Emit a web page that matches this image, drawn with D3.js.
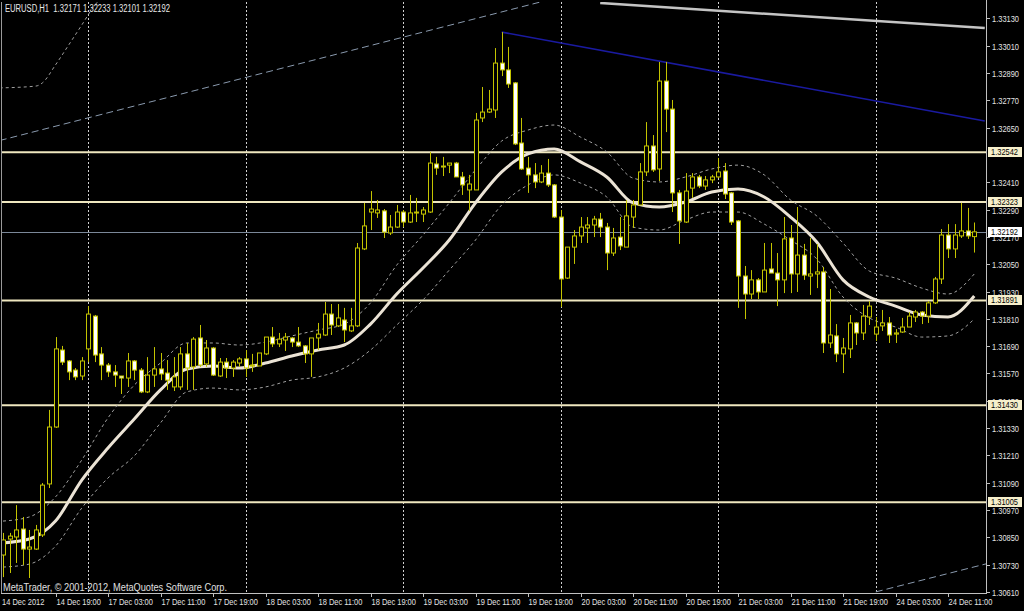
<!DOCTYPE html>
<html><head><meta charset="utf-8">
<script src="https://cdn.jsdelivr.net/npm/d3@7"></script>
<style>body{margin:0;background:#000;overflow:hidden}svg{display:block}text{font-family:"Liberation Sans",Arial,sans-serif}</style>
</head><body>
<script>
const symbolTitle = "EURUSD,H1  1.32171 1.32233 1.32101 1.32192";
const copyright = "MetaTrader, \u00A9 2001-2012, MetaQuotes Software Corp.";
const openP = [1.30773,1.30843,1.30852,1.30887,1.30799,1.30799,1.30861,1.31085,1.31335,1.31673,
1.31625,1.31585,1.31559,1.31678,1.31822,1.31656,1.31607,1.31577,1.31559,1.31550,
1.31625,1.31585,1.31489,1.31563,1.31590,1.31572,1.31511,1.31511,1.31656,1.31599,
1.31726,1.31612,1.31682,1.31559,1.31620,1.31594,1.31616,1.31634,1.31603,1.31603,
1.31656,1.31730,1.31700,1.31717,1.31726,1.31708,1.31691,1.31656,1.31726,1.31739,
1.31831,1.31779,1.31805,1.31757,1.31779,1.32117,1.32279,1.32275,1.32284,1.32187,
1.32213,1.32279,1.32235,1.32275,1.32270,1.32279,1.32490,1.32477,1.32485,1.32494,
1.32433,1.32376,1.32376,1.32692,1.32718,1.32727,1.32933,1.32903,1.32846,1.32582,
1.32472,1.32442,1.32411,1.32450,1.32398,1.32257,1.31989,1.32125,1.32174,1.32209,
1.32222,1.32248,1.32213,1.32099,1.32169,1.32125,1.32257,1.32310,1.32455,1.32569,
1.32468,1.32854,1.32731,1.32363,1.32235,1.32384,1.32433,1.32393,1.32420,1.32433,
1.32459,1.32363,1.32240,1.31998,1.31919,1.31981,1.31928,1.32029,1.32011,1.31981,
1.32165,1.32007,1.32090,1.31998,1.32007,1.32016,1.31704,1.31735,1.31656,1.31678,
1.31792,1.31748,1.31818,1.31743,1.31779,1.31792,1.31743,1.31752,1.31774,1.31818,
1.31840,1.31822,1.31880,1.31985,1.32178,1.32117,1.32174,1.32196,1.32171];
const highP = [1.30870,1.30870,1.30992,1.30940,1.30883,1.30905,1.31089,1.31410,1.31730,1.31691,
1.31629,1.31594,1.31642,1.31866,1.31827,1.31686,1.31616,1.31607,1.31559,1.31660,
1.31629,1.31594,1.31642,1.31686,1.31660,1.31629,1.31642,1.31686,1.31704,1.31730,
1.31783,1.31717,1.31686,1.31638,1.31638,1.31629,1.31642,1.31673,1.31656,1.31660,
1.31730,1.31774,1.31748,1.31748,1.31730,1.31774,1.31695,1.31726,1.31792,1.31884,
1.31875,1.31875,1.31858,1.31858,1.32143,1.32319,1.32371,1.32332,1.32292,1.32266,
1.32310,1.32288,1.32354,1.32341,1.32301,1.32543,1.32521,1.32521,1.32494,1.32499,
1.32455,1.32442,1.32714,1.32828,1.32815,1.32999,1.33069,1.33004,1.32850,1.32692,
1.32521,1.32494,1.32485,1.32512,1.32402,1.32288,1.32125,1.32200,1.32257,1.32257,
1.32262,1.32275,1.32231,1.32209,1.32257,1.32332,1.32332,1.32494,1.32674,1.32617,
1.32938,1.32938,1.32771,1.32376,1.32450,1.32450,1.32442,1.32437,1.32442,1.32516,
1.32494,1.32367,1.32244,1.32042,1.32024,1.31989,1.32143,1.32143,1.32099,1.32257,
1.32222,1.32301,1.32139,1.32165,1.32139,1.32038,1.31941,1.31787,1.31726,1.31827,
1.31796,1.31871,1.31888,1.31818,1.31849,1.31818,1.31765,1.31814,1.31840,1.31849,
1.31844,1.31888,1.31994,1.32204,1.32226,1.32226,1.32319,1.32297,1.32233];
const lowP = [1.30676,1.30694,1.30738,1.30729,1.30672,1.30795,1.30852,1.31067,1.31331,1.31607,
1.31541,1.31541,1.31541,1.31620,1.31620,1.31541,1.31555,1.31511,1.31480,1.31511,
1.31541,1.31484,1.31484,1.31511,1.31541,1.31498,1.31493,1.31498,1.31498,1.31498,
1.31599,1.31599,1.31559,1.31555,1.31550,1.31555,1.31599,1.31555,1.31577,1.31603,
1.31651,1.31686,1.31686,1.31669,1.31686,1.31686,1.31616,1.31555,1.31673,1.31735,
1.31739,1.31774,1.31708,1.31752,1.31774,1.32112,1.32200,1.32253,1.32165,1.32178,
1.32209,1.32213,1.32231,1.32235,1.32235,1.32275,1.32442,1.32437,1.32450,1.32433,
1.32354,1.32284,1.32376,1.32674,1.32714,1.32692,1.32876,1.32824,1.32573,1.32464,
1.32363,1.32384,1.32406,1.32389,1.32253,1.31862,1.31985,1.32051,1.32143,1.32143,
1.32169,1.32169,1.32024,1.32086,1.32112,1.32125,1.32209,1.32310,1.32437,1.32455,
1.32415,1.32630,1.32279,1.32139,1.32231,1.32341,1.32384,1.32376,1.32406,1.32428,
1.32336,1.32222,1.31858,1.31809,1.31897,1.31897,1.31928,1.32011,1.31866,1.31923,
1.31923,1.31928,1.31981,1.31915,1.31945,1.31660,1.31682,1.31620,1.31572,1.31638,
1.31695,1.31717,1.31783,1.31713,1.31757,1.31704,1.31704,1.31748,1.31774,1.31796,
1.31787,1.31792,1.31875,1.31963,1.32077,1.32077,1.32165,1.32161,1.32101];
const closeP = [1.30839,1.30856,1.30883,1.30799,1.30808,1.30883,1.31080,1.31335,1.31678,1.31620,
1.31577,1.31555,1.31625,1.31831,1.31651,1.31607,1.31577,1.31563,1.31550,1.31625,
1.31585,1.31489,1.31563,1.31590,1.31568,1.31541,1.31555,1.31656,1.31594,1.31721,
1.31607,1.31682,1.31563,1.31620,1.31594,1.31620,1.31634,1.31594,1.31607,1.31660,
1.31730,1.31700,1.31721,1.31730,1.31708,1.31691,1.31656,1.31726,1.31743,1.31831,
1.31783,1.31814,1.31761,1.31779,1.32121,1.32218,1.32292,1.32288,1.32191,1.32213,
1.32279,1.32235,1.32275,1.32279,1.32288,1.32494,1.32472,1.32481,1.32494,1.32433,
1.32398,1.32402,1.32683,1.32718,1.32731,1.32933,1.32903,1.32841,1.32578,1.32468,
1.32442,1.32411,1.32450,1.32398,1.32257,1.31985,1.32125,1.32174,1.32213,1.32222,
1.32248,1.32213,1.32099,1.32165,1.32130,1.32262,1.32310,1.32455,1.32569,1.32464,
1.32854,1.32731,1.32363,1.32240,1.32371,1.32433,1.32393,1.32420,1.32433,1.32455,
1.32358,1.32235,1.31998,1.31919,1.31981,1.31928,1.32024,1.32011,1.31981,1.32161,
1.32007,1.32090,1.32002,1.32007,1.32016,1.31704,1.31739,1.31656,1.31682,1.31792,
1.31748,1.31822,1.31866,1.31774,1.31792,1.31739,1.31748,1.31774,1.31822,1.31840,
1.31822,1.31880,1.31985,1.32178,1.32117,1.32178,1.32196,1.32174,1.32192];

// moving average and its bands, read every 4th bar (bars 0,4,...,148)
const maValues = [1.30826,1.30843,1.30922,1.31102,1.31243,1.31370,1.31498,1.31590,1.31603,1.31594,
1.31616,1.31647,1.31673,1.31695,1.31787,1.31919,1.32033,1.32156,1.32319,1.32455,
1.32534,1.32556,1.32499,1.32433,1.32319,1.32301,1.32323,1.32367,1.32380,1.32345,
1.32257,1.32147,1.31981,1.31906,1.31866,1.31827,1.31818,1.31910];
const upperBand = [1.30922,1.30940,1.31028,1.31190,1.31375,1.31519,1.31616,1.31704,1.31704,1.31695,
1.31708,1.31735,1.31761,1.31787,1.31880,1.32046,1.32178,1.32319,1.32464,1.32591,
1.32639,1.32661,1.32608,1.32543,1.32428,1.32411,1.32433,1.32468,1.32485,1.32442,
1.32332,1.32262,1.32143,1.32020,1.31989,1.31945,1.31919,1.32007];
const lowerBand = [1.30720,1.30733,1.30812,1.30979,1.31111,1.31208,1.31353,1.31489,1.31506,1.31498,
1.31511,1.31541,1.31555,1.31594,1.31673,1.31783,1.31893,1.32024,1.32156,1.32310,
1.32398,1.32442,1.32406,1.32345,1.32213,1.32200,1.32244,1.32279,1.32279,1.32226,
1.32156,1.32073,1.31906,1.31814,1.31774,1.31730,1.31735,1.31809];
const outerBarIdx = [-0.5,5,6,8,10,12,14,15.5];
const outerValues = [1.32824,1.32832,1.32846,1.32925,1.33012,1.33100,1.33188,1.33232];

const timeLabels = ["14 Dec 2012","14 Dec 19:00","17 Dec 03:00","17 Dec 11:00","17 Dec 19:00","18 Dec 03:00","18 Dec 11:00","18 Dec 19:00","19 Dec 03:00","19 Dec 11:00","19 Dec 19:00","20 Dec 03:00","20 Dec 11:00","20 Dec 19:00","21 Dec 03:00","21 Dec 11:00","21 Dec 19:00","24 Dec 03:00","24 Dec 11:00"];
const timeLabelBars = [0,8,16,24,32,40,48,56,64,72,80,88,96,104,112,120,128,136,144];
const gridBars = [13,37,61,85,109,133];
// 1.32530 is fully hidden behind the 1.32542 marker in the reference, so it is not listed
const priceTicks = [1.33130,1.33010,1.32890,1.32770,1.32650,1.32410,1.32290,1.32170,1.32050,1.31930,1.31810,1.31690,1.31570,1.31450,1.31330,1.31210,1.31090,1.30970,1.30850,1.30730,1.30610];
const levelLines = [1.32542,1.32323,1.31891,1.31430,1.31005];
const bidPrice = 1.32192;
// trend objects: [barIndex, price] endpoints
const channelUpper = [[-0.5,1.32593],[82,1.33202]];
const channelLower = [[133,1.30611],[149.8,1.30734]];
const silverLine = [[91,1.33197],[149.6,1.33087]];
const blueLine = [[76,1.33069],[149.6,1.32679]];

const W = 1024, H = 611;
const L = 2, T = 2, R = 986, B = 593;
const x = d3.scaleLinear().domain([0, 148]).range([3, 974.25]);
const y = d3.scaleLinear().domain([1.33210, 1.30610]).range([0, 592.12]);

const svg = d3.select("body").append("svg").attr("width", W).attr("height", H).style("background", "#000");
svg.append("defs").append("clipPath").attr("id", "plot").append("rect")
  .attr("x", L).attr("y", T).attr("width", R - L).attr("height", B - T);
const g = svg.append("g").attr("clip-path", "url(#plot)");

// vertical grid
g.selectAll(".vg").data(gridBars).join("line")
  .attr("x1", d => Math.round(x(d)) + 0.5).attr("x2", d => Math.round(x(d)) + 0.5)
  .attr("y1", T).attr("y2", B).attr("stroke", "#d0d0d0").attr("stroke-width", 1).attr("stroke-dasharray", "2,2");

// level lines
g.selectAll(".lv").data(levelLines).join("line")
  .attr("x1", L).attr("x2", R).attr("y1", d => y(d)).attr("y2", d => y(d))
  .attr("stroke", "#efe7bf").attr("stroke-width", 2);
g.append("line").attr("x1", L).attr("x2", R).attr("y1", Math.round(y(bidPrice)) + 0.5).attr("y2", Math.round(y(bidPrice)) + 0.5)
  .attr("stroke", "#7b8899").attr("stroke-width", 1);

// bands & MA
const idx4 = maValues.map((_, k) => k * 4);
const lineGen = d3.line().x(d => x(d[0])).y(d => y(d[1])).curve(d3.curveMonotoneX);
const band = (vals, idxs) => idxs.map((i, k) => [i, vals[k]]);
g.append("path").attr("d", lineGen(band(upperBand, idx4))).attr("fill", "none").attr("stroke", "#a0a0a0").attr("stroke-width", 1).attr("stroke-dasharray", "3,3");
g.append("path").attr("d", lineGen(band(lowerBand, idx4))).attr("fill", "none").attr("stroke", "#a0a0a0").attr("stroke-width", 1).attr("stroke-dasharray", "3,3");
g.append("path").attr("d", lineGen(band(outerValues, outerBarIdx))).attr("fill", "none").attr("stroke", "#a0a0a0").attr("stroke-width", 1).attr("stroke-dasharray", "3,3");

// trend lines
const straight = d3.line().x(d => x(d[0])).y(d => y(d[1]));
g.append("path").attr("d", straight(channelUpper)).attr("stroke", "#8a9aae").attr("stroke-width", 1).attr("stroke-dasharray", "7,4").attr("fill", "none");
g.append("path").attr("d", straight(channelLower)).attr("stroke", "#8a9aae").attr("stroke-width", 1).attr("stroke-dasharray", "7,4").attr("fill", "none");
g.append("path").attr("d", straight(silverLine)).attr("stroke", "#c4c4c4").attr("stroke-width", 2.5).attr("fill", "none");
g.append("path").attr("d", straight(blueLine)).attr("stroke", "#1a1aa0").attr("stroke-width", 1.6).attr("fill", "none");

g.append("path").attr("d", lineGen(band(maValues, idx4))).attr("fill", "none").attr("stroke", "#ebe3d5").attr("stroke-width", 3);

// candles
const bars = openP.map((o, i) => ({ i, o, h: highP[i], l: lowP[i], c: closeP[i] }));
const cg = g.selectAll(".c").data(bars).join("g");
const wick = "#c4c400";
cg.append("line").attr("x1", d => Math.round(x(d.i)) + 0.5).attr("x2", d => Math.round(x(d.i)) + 0.5)
  .attr("y1", d => y(d.h)).attr("y2", d => y(d.l)).attr("stroke", wick).attr("stroke-width", 1);
cg.append("rect")
  .attr("x", d => Math.round(x(d.i)) - 1.5).attr("width", 4)
  .attr("y", d => Math.min(y(d.o), y(d.c)))
  .attr("height", d => Math.max(1, Math.abs(y(d.o) - y(d.c))))
  .attr("fill", d => d.c >= d.o ? "#000" : "#ffffff")
  .attr("stroke", wick).attr("stroke-width", 1);

// frame
svg.append("line").attr("x1", 1.5).attr("x2", 1.5).attr("y1", T).attr("y2", B).attr("stroke", "#9a9a9a");
svg.append("line").attr("x1", R + 0.5).attr("x2", R + 0.5).attr("y1", 0).attr("y2", B + 1).attr("stroke", "#c0c0c0");
svg.append("line").attr("x1", 1).attr("x2", R + 1).attr("y1", B + 0.5).attr("y2", B + 0.5).attr("stroke", "#c0c0c0");

const sx = 0.83;
// price axis
const pa = svg.append("g");
priceTicks.forEach(p => {
  const yy = Math.round(y(p)) + 0.5;
  pa.append("line").attr("x1", R + 1).attr("x2", R + 4).attr("y1", yy).attr("y2", yy).attr("stroke", "#c0c0c0");
  pa.append("text").attr("transform", `translate(${R + 6},${yy + 3.3}) scale(${sx},1)`)
    .attr("font-size", 9).attr("fill", "#e4e4e4").text(p.toFixed(5));
});
function priceBox(p, fill) {
  const yy = Math.round(y(p));
  pa.append("rect").attr("x", R + 2).attr("y", yy - 5).attr("width", 34).attr("height", 10).attr("fill", fill);
  pa.append("text").attr("transform", `translate(${R + 5},${yy + 3.3}) scale(${sx},1)`)
    .attr("font-size", 9).attr("fill", "#000").text(p.toFixed(5));
}
levelLines.forEach(p => priceBox(p, "#f6efcb"));
priceBox(bidPrice, "#ffffff");

// time axis
const ta = svg.append("g");
timeLabelBars.forEach((b, k) => {
  const xx = Math.round(x(b)) + 0.5;
  if (k > 0) ta.append("line").attr("x1", xx).attr("x2", xx).attr("y1", B).attr("y2", B + 4).attr("stroke", "#c0c0c0");
  ta.append("text").attr("transform", `translate(${k === 0 ? 2 : xx},${B + 12}) scale(${sx},1)`)
    .attr("font-size", 9).attr("fill", "#e4e4e4").text(timeLabels[k]);
});

// texts
svg.append("text").attr("x", 5).attr("y", 12).attr("font-size", 10).attr("fill", "#e8e8e8")
  .style("white-space", "pre").attr("textLength", 165).attr("lengthAdjust", "spacingAndGlyphs").text(symbolTitle);
svg.append("text").attr("x", 3).attr("y", 591).attr("font-size", 10).attr("fill", "#e0e0e0")
  .attr("textLength", 224).attr("lengthAdjust", "spacingAndGlyphs").text(copyright);
</script>
</body></html>
